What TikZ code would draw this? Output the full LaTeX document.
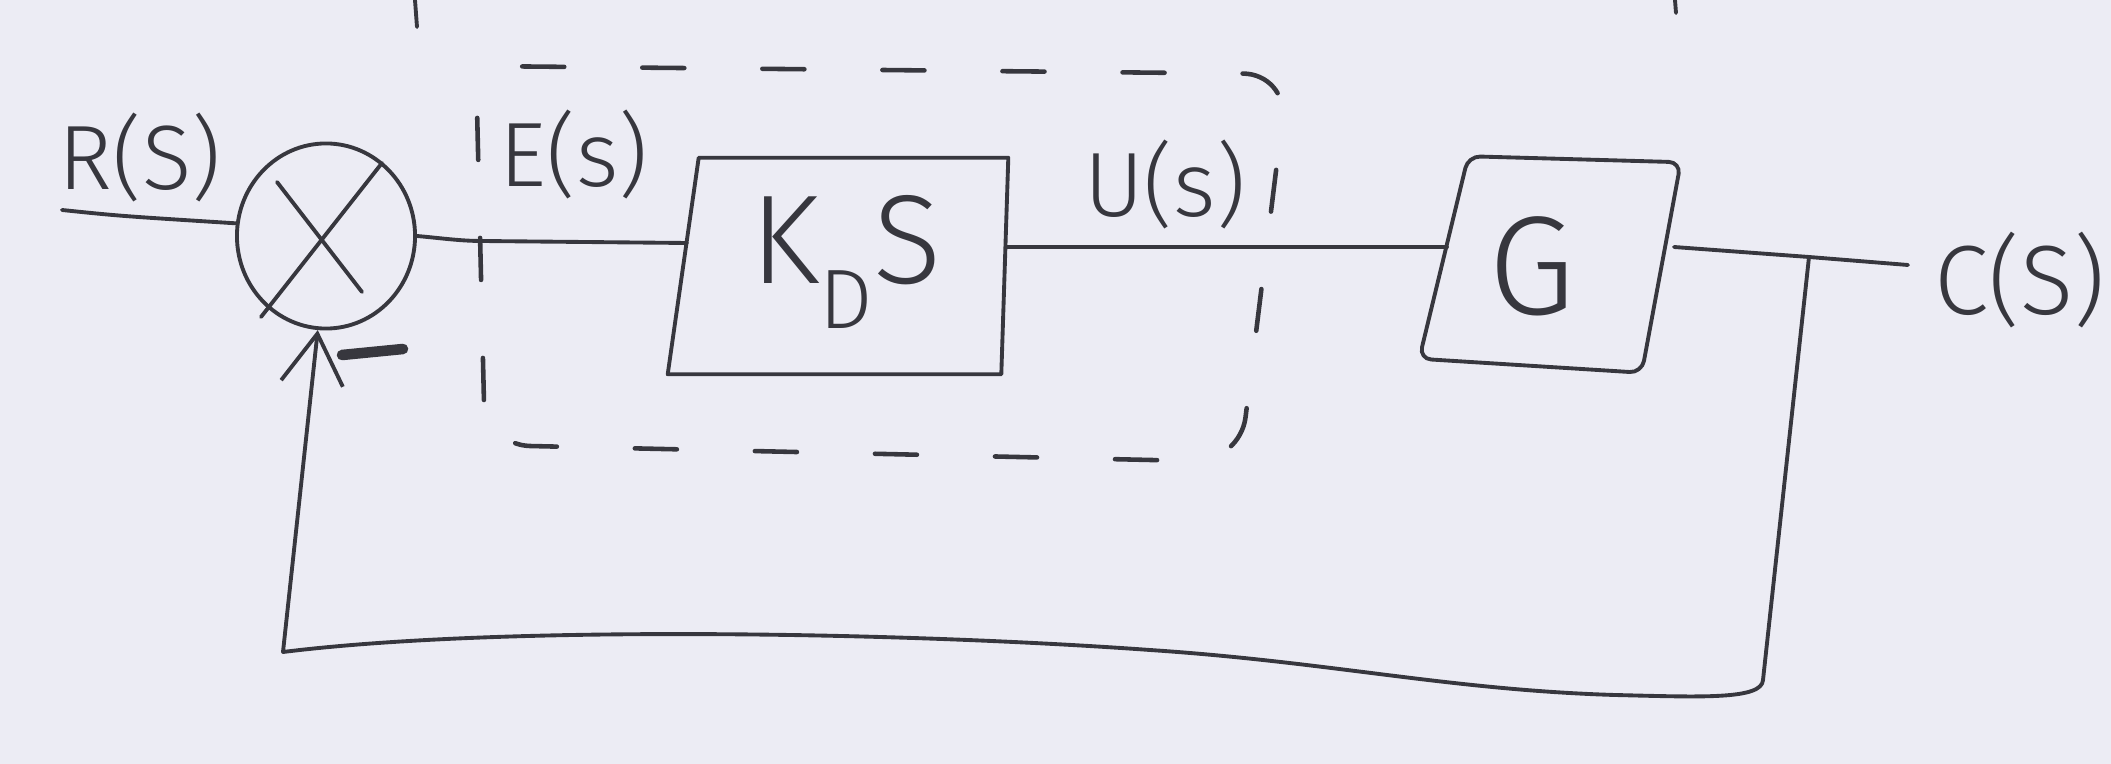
\documentclass[tikz,border=0pt]{standalone}
\usepackage{fontspec}
\setmainfont{Fira Sans Light}
\usetikzlibrary{shapes.geometric,arrows.meta,calc}
\definecolor{bg}{RGB}{236,236,244}
\definecolor{ink}{RGB}{55,55,62}
\begin{document}
\begin{tikzpicture}[x=0.01cm,y=-0.01cm,
  wire/.style={draw=ink,line width=1.1pt,line cap=round,line join=round},
  lbl/.style={text=ink,inner sep=0pt,font=\fontsize{26}{30}\selectfont},
  boxanchor/.style={minimum width=#1,minimum height=2.15cm,inner sep=0pt},
  fbarrow/.style={-{Straight Barb[length=0.5cm,width=0.62cm]}}]
\fill[bg] (0,0) rectangle (2111,764);
\useasboundingbox (0,0) rectangle (2111,764);

% top marks
\draw[wire] (415,0) -- (417,27);
\draw[wire] (1675,0) -- (1676,13);

% summing junction
\node[ellipse,draw=ink,line width=1.1pt,minimum width=1.78cm,minimum height=1.85cm,inner sep=0pt] (sum) at (326,236) {};
\draw[wire] (277,182) -- (362,292);
\draw[wire] (382,163) -- (261,317);

% K_D s block
\node[boxanchor=3.39cm] (kd) at (838,266) {};
\draw[wire] ($(kd.north west)+(31,0)$) -- (kd.north east) -- ($(kd.south east)+(-7,0)$) -- (kd.south west) -- cycle;
\node[lbl,font=\fontsize{36}{40}\selectfont] (kl) at (846,262) {K\raisebox{-0.35em}{\fontsize{24}{26}\selectfont D}S};

% G block
\node[boxanchor=2.6cm] (g) at (1550,264.5) {};
\draw[wire,rounded corners=0.12cm] ($(g.north west)+(49,0)$) -- ($(g.north east)+(0,6)$) -- ($(g.south east)+(-39,0)$) -- ($(g.south west)+(0,-14)$) -- cycle;
\node[lbl,font=\fontsize{40}{44}\selectfont] (gl) at (1532,266) {G};

% dashed controller box
\draw[ink,line width=1.3pt,dash pattern=on 0.42cm off 0.78cm,rounded corners=0.45cm,line cap=round]
  (485,445) -- (476,66) -- (1288,74) -- (1240,462) -- cycle;

% connectors
\coordinate (rin) at (62,210);
\coordinate (kin) at (687,243);
\coordinate (kout) at (1006,247);
\coordinate (gin) at (1447,247);
\coordinate (gout) at (1674,247);
\coordinate (br) at (1809,257);
\coordinate (cout) at (1908,265);
\draw[wire] (rin) .. controls (120,216) .. (sum.172);
\draw[wire] (sum.east) .. controls (440,238) and (460,241) .. (482,241) -- (kin);
\draw[wire] (kout) -- (gin);
\draw[wire] (gout) -- (br) -- (cout);
\draw[wire,fbarrow] (br) -- (1763,680) .. controls (1762,700) and (1700,697) .. (1615,695)
  .. controls (1450,690) and (1330,662) .. (1150,650)
  .. controls (900,632) and (500,625) .. (283,652) -- (sum.265);

% minus sign
\draw[ink,line width=3pt,line cap=round] (342,355) -- (403,349);

% labels
\node[lbl] (rl) at (140,158) {R(S)};
\node[lbl] (el) at (574,155) {E(s)};
\node[lbl] (ul) at (1165,185) {U(s)};
\node[lbl,font=\fontsize{28}{32}\selectfont] (cl) at (2020,280) {C(S)};
\end{tikzpicture}
\end{document}
